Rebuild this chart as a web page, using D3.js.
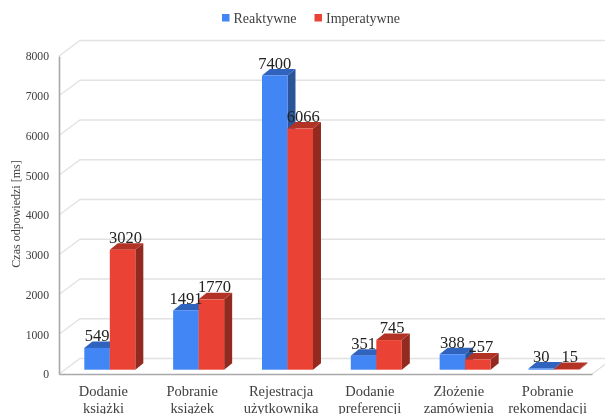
<!DOCTYPE html>
<html>
<head>
<meta charset="utf-8">
<script src="https://cdn.jsdelivr.net/npm/d3@7/dist/d3.min.js"></script>
<style>
    html, body { margin: 0; padding: 0; background: #fff; }
    svg { display: block; filter: blur(0.4px); }
    text { font-family: "Liberation Serif", serif; }
    .domain { stroke: #a9a9a9; stroke-width: 1.6; }
</style>
</head>
<body>
<div id="chart"></div>
<script>
var categories = [
    ["Dodanie", "książki"],
    ["Pobranie", "książek"],
    ["Rejestracja", "użytkownika"],
    ["Dodanie", "preferencji"],
    ["Złożenie", "zamówienia"],
    ["Pobranie", "rekomendacji"]
];
var seriesNames = ["Reaktywne", "Imperatywne"];
var reaktywne = [549, 1491, 7400, 351, 388, 30];
var imperatywne = [3020, 1770, 6066, 745, 257, 15];
var yTicks = [0, 1000, 2000, 3000, 4000, 5000, 6000, 7000, 8000];

var front = ["#4285f4", "#ea4335"],
    side = ["#2a5599", "#922a20"],
    top_ = ["#2f63bd", "#b33226"];

var width = 605,
    height = 414,
    left = 59,
    right = 592,
    wallX = 21,      // depth of the back wall
    wallY = 15.5,
    barX = 8,        // depth of a bar
    barY = 6.5,
    insetX = 6.4,    // bars stand a bit behind the front edge
    insetY = 4.3;

var svg = d3.select('#chart')
    .append('svg')
    .attr('width', width)
    .attr('height', height);

var y = d3.scaleLinear().domain([0, 8000]).range([374, 56]);

var x = d3.scaleBand()
    .domain(d3.range(categories.length))
    .range([left, right])
    .paddingInner(0.4257)
    .paddingOuter(0.2128);

var x1 = d3.scaleBand()
    .domain([0, 1])
    .range([0, x.bandwidth()]);

// walls
var grid = svg.append('g');
yTicks.forEach(function (t) {
    grid.append('path')
        .attr('fill', 'none')
        .attr('stroke', '#e2e2e2')
        .attr('stroke-width', 1.3)
        .attr('d', 'M' + left + ',' + y(t) + 'L' + (left + wallX) + ',' + (y(t) - wallY) + 'L' + width + ',' + (y(t) - wallY));
});
grid.append('line')
    .attr('stroke', '#e2e2e2')
    .attr('stroke-width', 1.3)
    .attr('x1', right)
    .attr('y1', y(0))
    .attr('x2', right + wallX)
    .attr('y2', y(0) - wallY);

// axes
var yAxis = svg.append('g')
    .attr('transform', 'translate(' + left + ',0)')
    .call(d3.axisLeft(y).tickValues(yTicks).tickSize(0).tickPadding(10).tickFormat(d3.format('d')));
yAxis.selectAll('text')
    .attr('fill', '#404040')
    .style('font-size', '11.7px');

var xAxis = svg.append('g')
    .attr('transform', 'translate(0,' + y(0) + ')')
    .call(d3.axisBottom(x).tickSize(0).tickFormat(''));
xAxis.selectAll('.tick text').remove();

xAxis.selectAll('.tick')
    .append('text')
    .attr('text-anchor', 'middle')
    .attr('fill', '#404040')
    .style('font-size', '14.5px')
    .each(function (d) {
        var label = d3.select(this);
        categories[d].forEach(function (line, i) {
            label.append('tspan')
                .attr('x', 0)
                .attr('y', 21.5 + i * 17)
                .text(line);
        });
    });

svg.append('text')
    .attr('transform', 'translate(20,214) rotate(-90)')
    .attr('text-anchor', 'middle')
    .attr('fill', '#404040')
    .style('font-size', '12px')
    .text('Czas odpowiedzi [ms]');

// bars
var rows = [];
categories.forEach(function (c, i) {
    rows.push({cat: i, s: 0, value: reaktywne[i]});
    rows.push({cat: i, s: 1, value: imperatywne[i]});
});

function points(list) {
    return list.map(function (p) { return p.join(','); }).join(' ');
}
function bx(d) { return x(d.cat) + x1(d.s) + insetX; }
function bw() { return x1.bandwidth(); }
function by0() { return y(0) - insetY; }
function by1(d) { return y(d.value) - insetY; }

var bars = svg.append('g')
    .selectAll('g')
    .data(rows)
    .enter()
    .append('g');

bars.append('polygon')
    .attr('fill', function (d) { return side[d.s]; })
    .attr('points', function (d) {
        var r = bx(d) + bw();
        return points([[r, by1(d)], [r + barX, by1(d) - barY], [r + barX, by0() - barY], [r, by0()]]);
    });

bars.append('polygon')
    .attr('fill', function (d) { return top_[d.s]; })
    .attr('points', function (d) {
        var l = bx(d), r = l + bw();
        return points([[l, by1(d)], [l + barX, by1(d) - barY], [r + barX, by1(d) - barY], [r, by1(d)]]);
    });

bars.append('rect')
    .attr('fill', function (d) { return front[d.s]; })
    .attr('x', bx)
    .attr('y', by1)
    .attr('width', bw())
    .attr('height', function (d) { return by0() - by1(d); });

svg.append('g')
    .selectAll('text')
    .data(rows)
    .enter()
    .append('text')
    .attr('text-anchor', 'middle')
    .attr('fill', '#222')
    .style('font-size', '16.5px')
    .attr('x', function (d) { return bx(d) + bw() / 2 + (d.s ? 3 : 0); })
    .attr('y', function (d) { return by1(d) - (d.s ? 7 : 6.5); })
    .text(function (d) { return d.value; });

// legend
var legendX = d3.scaleOrdinal().domain(seriesNames).range([222, 314.5]);
var legend = svg.append('g')
    .selectAll('g')
    .data(seriesNames)
    .enter()
    .append('g')
    .attr('transform', function (d) { return 'translate(' + legendX(d) + ',14)'; });
legend.append('rect')
    .attr('width', 7.5)
    .attr('height', 7.5)
    .attr('fill', function (d, i) { return front[i]; });
legend.append('text')
    .attr('x', 11.5)
    .attr('y', 8.5)
    .attr('fill', '#404040')
    .style('font-size', '14px')
    .text(function (d) { return d; });
</script>
</body>
</html>
